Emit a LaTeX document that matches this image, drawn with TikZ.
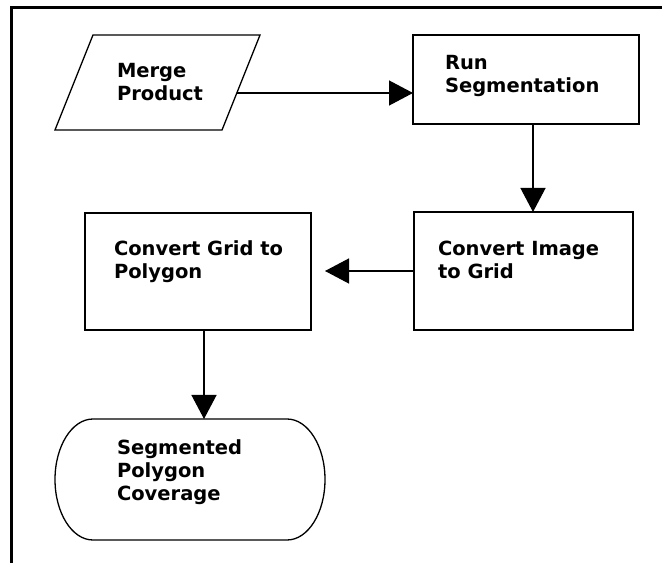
\documentclass[tikz,border=0pt]{standalone}
\usepackage{fontspec}
\setmainfont{DejaVu Sans}
\usetikzlibrary{arrows.meta,calc}
\begin{document}
\begin{tikzpicture}[x=1pt,y=1pt,
  shapebox/.style={draw=black, line width=1.3pt, rectangle, inner sep=0pt, outer sep=0pt},
  shapeline/.style={draw=black, line width=1.3pt, line join=miter},
  lbl/.style={anchor=base west, inner sep=0pt, outer sep=0pt, text=black,
    font=\fontsize{19.5}{23}\selectfont\bfseries},
  conn/.style={draw=black, line width=1.3pt, -{Triangle[length=24pt,width=25pt]}}]
\useasboundingbox (0,0) rectangle (662,563);
% frame
\draw[line width=2.6pt] (11.5,0) |- (662,555.5);
% Merge Product (parallelogram)
\draw[shapeline] (55,433) -- (222,433) -- (260,528) -- (93,528) -- cycle;
\coordinate (mergeR) at (237,470);
\node[lbl] (tmerge) at (117,485) {\vtop{\hbox{Merge}\hbox{Product}}};
% Run Segmentation
\node[shapebox, minimum width=226pt, minimum height=89pt] (rseg) at (526,483.5) {};
\node[lbl] (trseg) at (445,493) {\vtop{\hbox{Run}\hbox{Segmentation}}};
% Convert Image to Grid
\node[shapebox, minimum width=219pt, minimum height=118pt] (cimg) at (523.5,292) {};
\node[lbl] (tcimg) at (438,307) {\vtop{\hbox{Convert Image}\hbox{to Grid}}};
% Convert Grid to Polygon
\node[shapebox, minimum width=226pt, minimum height=117pt] (cgrid) at (198,291.5) {};
\node[lbl] (tcgrid) at (114,307) {\vtop{\hbox{Convert Grid to}\hbox{Polygon}}};
% Segmented Polygon Coverage (terminator)
\node[minimum width=270pt, minimum height=121pt, inner sep=0pt, outer sep=0pt] (term) at (190,83.5) {};
\draw[shapeline] (93,144) -- (287,144)
  arc[start angle=90, end angle=-90, x radius=38, y radius=60.5] -- (93,23)
  arc[start angle=270, end angle=90, x radius=38, y radius=60.5] -- cycle;
\node[lbl] (tterm) at (117,108) {\vtop{\hbox{Segmented}\hbox{Polygon}\hbox{Coverage}}};
% connectors
\draw[conn] (mergeR) -- (mergeR -| rseg.west);
\coordinate (xa) at (533,0);
\draw[conn] (rseg.south -| xa) -- (cimg.north -| xa);
\draw[conn, shorten >=14pt] (cimg.west) -- (cimg.west -| cgrid.east);
\coordinate (xb) at (204,0);
\draw[conn] (cgrid.south -| xb) -- (term.north -| xb);
\end{tikzpicture}
\end{document}
